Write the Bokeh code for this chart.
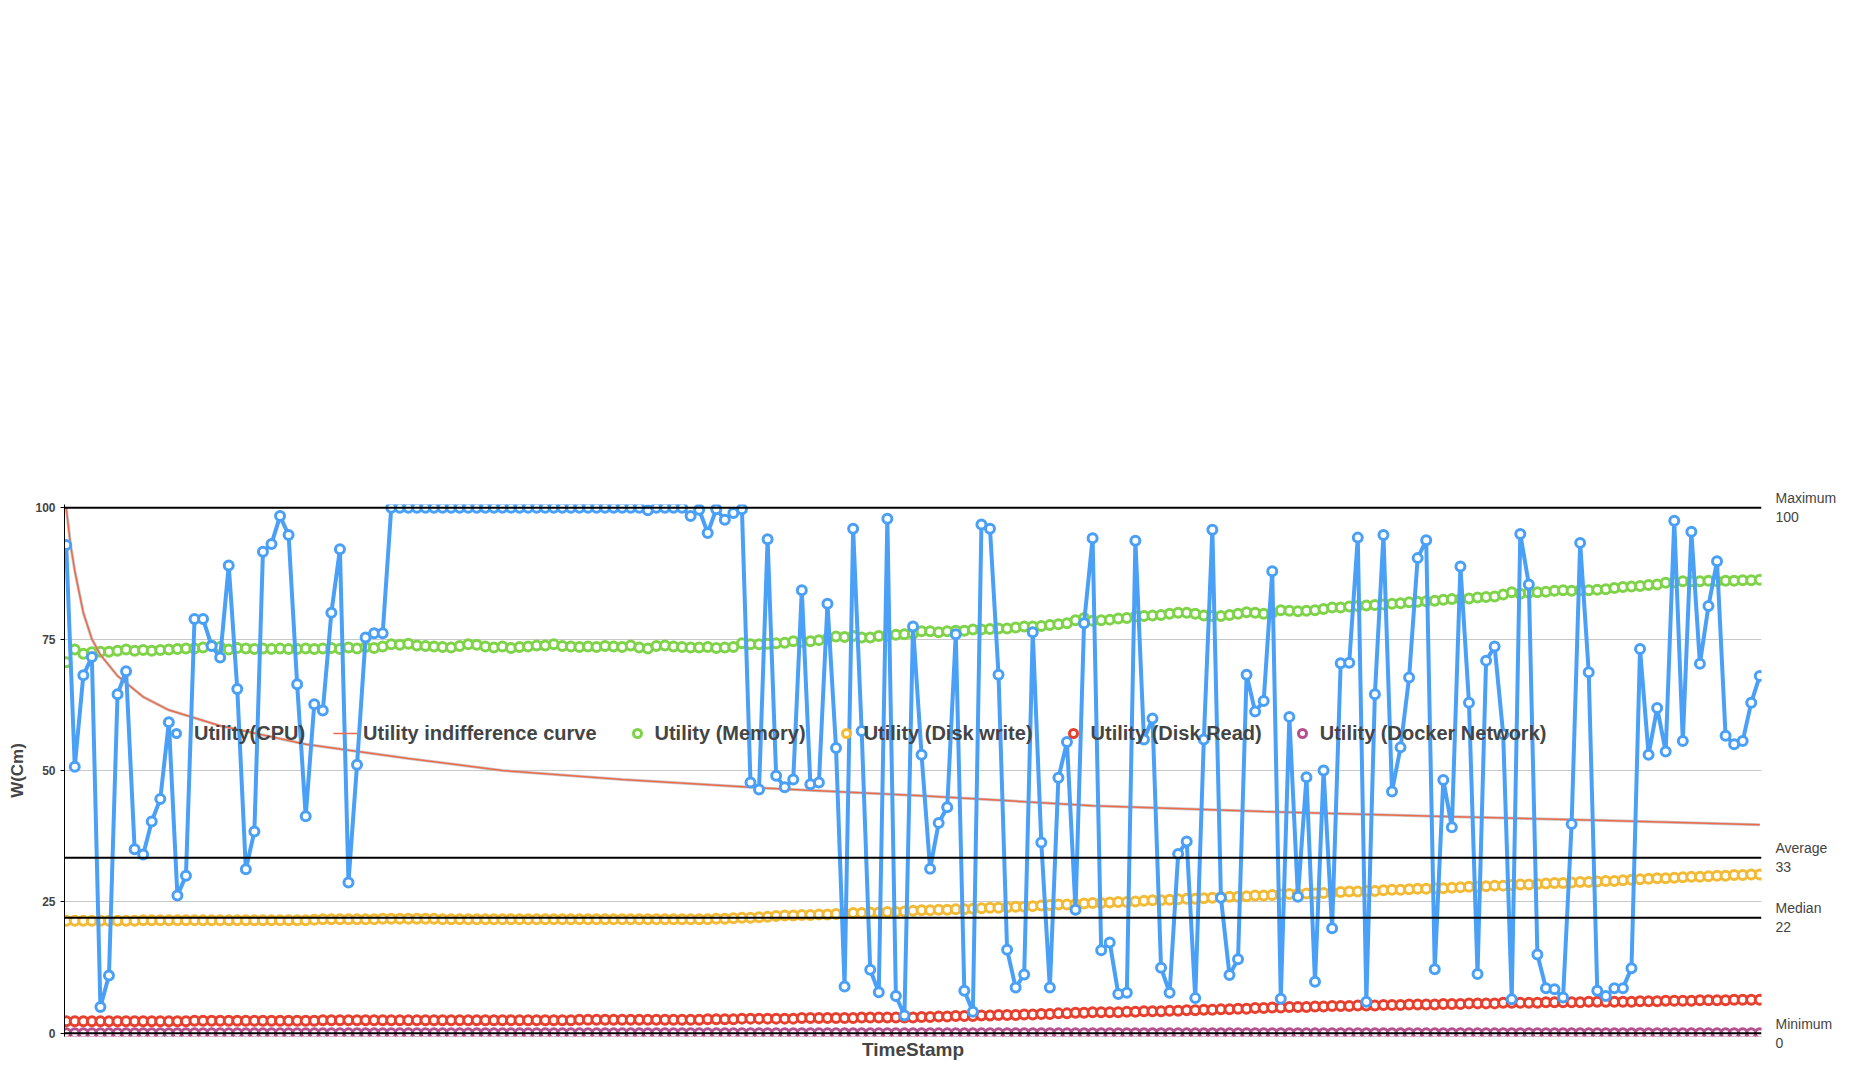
"""Container utility chart."""
from bokeh.embed import file_html
from bokeh.models import Legend, LegendItem, LinearAxis, Range1d, Span
from bokeh.plotting import figure
from bokeh.resources import INLINE

FONT = "Liberation Sans"

cpu = [
    92.9, 50.7, 68.1, 71.6, 5, 11, 64.5, 68.9, 35, 34,
    40.3, 44.6, 59.2, 26.2, 30, 78.8, 78.8, 73.7, 71.5, 89,
    65.5, 31.2, 38.4, 91.6, 93.1, 98.4, 94.8, 66.4, 41.3, 62.6,
    61.4, 80, 92.1, 28.7, 51.1, 75.3, 76.1, 76.1, 100, 100,
    100, 100, 100, 100, 100, 100, 100, 100, 100, 100,
    100, 100, 100, 100, 100, 100, 100, 100, 100, 100,
    100, 100, 100, 100, 100, 100, 100, 100, 99.5, 100,
    100, 100, 100, 98.4, 99.6, 95.2, 99.7, 97.7, 99, 99.7,
    47.7, 46.4, 94, 49, 46.8, 48.3, 84.3, 47.4, 47.7, 81.7,
    54.3, 8.9, 96, 57.5, 12.1, 7.8, 97.9, 7.1, 3.4, 77.4,
    53, 31.3, 40, 43, 75.9, 8.1, 4.1, 96.8, 96, 68.2,
    15.9, 8.7, 11.2, 76.3, 36.3, 8.7, 48.6, 55.4, 23.5, 78,
    94.2, 15.8, 17.3, 7.5, 7.7, 93.7, 55.9, 59.9, 12.5, 7.7,
    34.1, 36.5, 6.7, 55.9, 95.8, 25.8, 11.1, 14.1, 68.2, 61.2,
    63.2, 87.9, 6.6, 60.2, 26, 48.7, 9.8, 50, 20, 70.4,
    70.5, 94.3, 6, 64.5, 94.8, 46, 54.4, 67.7, 90.4, 93.8,
    12.2, 48.2, 39.2, 88.8, 62.9, 11.3, 70.9, 73.6, 56.9, 6.5,
    95, 85.4, 15, 8.6, 8.4, 6.8, 39.8, 93.3, 68.7, 8.1,
    7.1, 8.6, 8.6, 12.4, 73.1, 53, 61.9, 53.6, 97.5, 55.6,
    95.4, 70.3, 81.3, 89.8, 56.6, 55, 55.6, 62.9, 68,
]

memory = [
    70.6, 73.0, 72.2, 72.5, 72.6, 72.6, 72.8, 73.0, 72.8, 72.9,
    72.8, 72.9, 73.0, 73.1, 73.2, 73.2, 73.4, 73.8, 73.5, 73.0,
    73.3, 73.2, 73.1, 73.2, 73.1, 73.2, 73.1, 73.1, 73.2, 73.1,
    73.2, 73.3, 73.1, 73.4, 73.2, 73.5, 73.3, 73.6, 74.0, 73.9,
    74.1, 73.8, 73.7, 73.6, 73.5, 73.4, 73.7, 74.0, 73.9, 73.6,
    73.4, 73.6, 73.3, 73.5, 73.6, 73.8, 73.8, 74.0, 73.7, 73.6,
    73.5, 73.6, 73.5, 73.7, 73.6, 73.5, 73.8, 73.4, 73.2, 73.7,
    73.8, 73.6, 73.5, 73.4, 73.4, 73.5, 73.3, 73.4, 73.5, 74.2,
    74.0, 74.0, 74.1, 74.2, 74.3, 74.6, 74.5, 74.6, 74.8, 75.1,
    75.5, 75.4, 75.6, 75.3, 75.3, 75.6, 75.7, 75.8, 75.9, 76.0,
    76.5, 76.5, 76.3, 76.5, 76.6, 76.6, 76.8, 76.8, 76.9, 77.0,
    77.0, 77.2, 77.4, 77.4, 77.5, 77.7, 77.8, 78.0, 78.6, 79.0,
    78.5, 78.6, 78.7, 78.9, 79.0, 79.3, 79.4, 79.5, 79.6, 79.8,
    80.0, 80.0, 79.8, 79.5, 79.4, 79.4, 79.6, 79.8, 80.1, 80.0,
    79.8, 80.0, 80.5, 80.4, 80.3, 80.4, 80.5, 80.7, 81.0, 81.0,
    81.2, 81.3, 81.4, 81.5, 81.6, 81.7, 81.8, 82.0, 82.1, 82.2,
    82.3, 82.5, 82.6, 82.6, 82.7, 82.9, 83.0, 83.1, 83.5, 83.9,
    83.6, 83.8, 83.9, 84.0, 84.2, 84.3, 84.2, 84.3, 84.3, 84.4,
    84.5, 84.7, 84.9, 85.0, 85.1, 85.3, 85.4, 85.7, 85.8, 86.0,
    86.0, 86.0, 86.1, 86.0, 86.1, 86.1, 86.2, 86.2, 86.3,
]

disk_write = [
    21.4, 21.4, 21.4, 21.4, 21.4, 21.4, 21.4, 21.4, 21.4, 21.5,
    21.5, 21.5, 21.5, 21.5, 21.5, 21.5, 21.5, 21.5, 21.5, 21.5,
    21.5, 21.5, 21.5, 21.5, 21.5, 21.5, 21.5, 21.5, 21.5, 21.6,
    21.7, 21.7, 21.7, 21.7, 21.7, 21.7, 21.7, 21.8, 21.8, 21.8,
    21.8, 21.8, 21.8, 21.8, 21.7, 21.7, 21.7, 21.7, 21.7, 21.7,
    21.7, 21.7, 21.7, 21.7, 21.7, 21.7, 21.7, 21.7, 21.7, 21.7,
    21.7, 21.7, 21.7, 21.7, 21.7, 21.7, 21.7, 21.7, 21.7, 21.7,
    21.7, 21.7, 21.7, 21.7, 21.7, 21.7, 21.8, 21.8, 21.9, 22.0,
    22.0, 22.1, 22.2, 22.3, 22.4, 22.4, 22.5, 22.5, 22.6, 22.6,
    22.7, 22.8, 22.9, 22.9, 23.0, 23.0, 23.1, 23.1, 23.2, 23.3,
    23.4, 23.4, 23.5, 23.5, 23.6, 23.6, 23.7, 23.8, 23.9, 23.9,
    24.0, 24.1, 24.1, 24.2, 24.3, 24.4, 24.5, 24.5, 24.6, 24.7,
    24.8, 24.8, 24.9, 25.0, 25.0, 25.1, 25.2, 25.3, 25.3, 25.4,
    25.5, 25.6, 25.6, 25.7, 25.8, 25.9, 26.0, 26.0, 26.1, 26.2,
    26.2, 26.3, 26.4, 26.5, 26.5, 26.6, 26.6, 26.7, 26.8, 26.9,
    27.0, 27.0, 27.1, 27.1, 27.2, 27.3, 27.3, 27.4, 27.5, 27.5,
    27.6, 27.6, 27.7, 27.8, 27.9, 27.9, 28.0, 28.1, 28.1, 28.2,
    28.3, 28.3, 28.4, 28.5, 28.6, 28.6, 28.7, 28.8, 28.8, 28.9,
    29.0, 29.0, 29.1, 29.2, 29.3, 29.4, 29.5, 29.5, 29.6, 29.7,
    29.8, 29.8, 29.9, 30.0, 30.0, 30.1, 30.1, 30.2, 30.2,
]

disk_read = [
    2.3, 2.3, 2.3, 2.3, 2.3, 2.3, 2.3, 2.3, 2.3, 2.3,
    2.3, 2.3, 2.3, 2.3, 2.3, 2.4, 2.4, 2.4, 2.4, 2.4,
    2.4, 2.4, 2.4, 2.4, 2.4, 2.4, 2.4, 2.4, 2.4, 2.4,
    2.5, 2.5, 2.5, 2.5, 2.5, 2.5, 2.5, 2.5, 2.5, 2.5,
    2.5, 2.5, 2.5, 2.5, 2.5, 2.5, 2.5, 2.5, 2.5, 2.5,
    2.5, 2.5, 2.5, 2.5, 2.5, 2.5, 2.5, 2.5, 2.5, 2.5,
    2.6, 2.6, 2.6, 2.6, 2.6, 2.6, 2.6, 2.6, 2.6, 2.6,
    2.6, 2.6, 2.6, 2.6, 2.6, 2.7, 2.7, 2.7, 2.7, 2.8,
    2.8, 2.8, 2.8, 2.8, 2.8, 2.8, 2.9, 2.9, 2.9, 2.9,
    2.9, 2.9, 2.9, 3.0, 3.0, 3.0, 3.0, 3.0, 3.0, 3.0,
    3.1, 3.1, 3.2, 3.2, 3.3, 3.3, 3.3, 3.4, 3.4, 3.5,
    3.5, 3.5, 3.6, 3.6, 3.7, 3.7, 3.8, 3.8, 3.9, 3.9,
    4.0, 4.0, 4.0, 4.0, 4.1, 4.1, 4.2, 4.2, 4.2, 4.3,
    4.3, 4.4, 4.4, 4.5, 4.5, 4.6, 4.6, 4.7, 4.7, 4.8,
    4.8, 4.9, 4.9, 5.0, 5.0, 5.0, 5.1, 5.1, 5.2, 5.2,
    5.2, 5.3, 5.3, 5.3, 5.4, 5.4, 5.4, 5.5, 5.5, 5.5,
    5.5, 5.6, 5.6, 5.6, 5.7, 5.7, 5.7, 5.7, 5.8, 5.8,
    5.8, 5.8, 5.8, 5.9, 5.9, 5.9, 5.9, 5.9, 6.0, 6.0,
    6.0, 6.0, 6.0, 6.0, 6.1, 6.1, 6.1, 6.2, 6.2, 6.2,
    6.2, 6.3, 6.3, 6.3, 6.3, 6.4, 6.4, 6.4, 6.4,
]

docker_net = [0.0] * len(cpu)

# indifference curve, read at a few sample points
curve_x = [0, 0.5, 1, 1.5, 2, 3, 4, 6, 9, 12, 18, 28, 40, 51, 65, 80,
           100, 120, 140, 160, 180, 198]
curve_y = [100, 93, 88, 84, 80, 75, 72, 68, 64, 61.5, 58.5, 55, 52.3, 50,
           48.3, 46.8, 45.2, 43.3, 42.2, 41.3, 40.5, 39.7]

stat_names = ["Maximum", "Average", "Median", "Minimum"]
stat_values = [100, 33.4, 22, 0]
stat_labels = ["100", "33", "22", "0"]

idx = list(range(len(cpu)))

p = figure(
    width=1839, height=1062,
    x_range=Range1d(-0.2, len(cpu) - 0.8),
    y_range=Range1d(-0.6, 100.6),
    output_backend="svg", toolbar_location=None,
    min_border_left=64, min_border_right=10, min_border_top=2,
    min_border_bottom=4,
)
p.outline_line_color = None
p.xgrid.visible = False
p.ygrid.ticker = [25, 50, 75]
p.ygrid.grid_line_color = "#c8c8c8"

p.yaxis.ticker = [0, 25, 50, 75, 100]
p.yaxis.minor_tick_line_color = None
p.yaxis.axis_label = "W(Cm)"
p.yaxis.axis_label_text_font = FONT
p.yaxis.axis_label_text_font_style = "bold"
p.yaxis.axis_label_text_font_size = "17px"
p.yaxis.major_label_text_font = FONT
p.yaxis.major_label_text_font_style = "bold"
p.yaxis.major_label_text_font_size = "12px"
p.yaxis.axis_line_color = "black"
p.yaxis.major_tick_out = 4
p.yaxis.major_tick_in = 0

p.xaxis.ticker = []
p.xaxis.axis_label = "TimeStamp"
p.xaxis.axis_label_text_font = FONT
p.xaxis.axis_label_text_font_style = "bold"
p.xaxis.axis_label_text_font_size = "19px"
p.xaxis.axis_line_color = None
p.xaxis.axis_label_standoff = 2

# stats lines, labelled on a right-hand axis
for val in stat_values:
    p.add_layout(Span(location=val, dimension="width", line_color="black",
                      line_width=2))
stat_axis = LinearAxis(
    ticker=stat_values,
    major_label_overrides={v: f"{n}\n{t}" for v, n, t in
                           zip(stat_values, stat_names, stat_labels)},
    axis_line_color=None, major_tick_line_color=None,
    major_label_text_font=FONT, major_label_text_font_size="14px",
    major_label_standoff=8,
)
p.add_layout(stat_axis, "right")


def dots(y, color):
    return p.scatter(idx, y, size=9, line_color=color, line_width=3,
                     fill_color="white")


r_dock = dots(docker_net, "#b5508e")
r_read = dots(disk_read, "#e8402e")
r_write = dots(disk_write, "#f3ba35")
r_mem = dots(memory, "#7ed348")

p.line(curve_x, curve_y, line_color="#b0b0b0", line_width=3, line_alpha=0.7)
r_curve = p.line(curve_x, curve_y, line_color="#ee6a4a", line_width=1.5)

r_cpu_line = p.line(idx, cpu, line_color="#4aa0f7", line_width=4)
r_cpu = dots(cpu, "#4aa0f7")

legend = Legend(
    items=[
        LegendItem(label="Utility(CPU)", renderers=[r_cpu]),
        LegendItem(label="Utility indifference curve", renderers=[r_curve]),
        LegendItem(label="Utility (Memory)", renderers=[r_mem]),
        LegendItem(label="Utility (Disk write)", renderers=[r_write]),
        LegendItem(label="Utility (Disk Read)", renderers=[r_read]),
        LegendItem(label="Utility (Docker Network)", renderers=[r_dock]),
    ],
    orientation="horizontal", location=(100, 0),
    label_text_font=FONT, label_text_font_style="bold",
    label_text_font_size="20px", border_line_color=None,
    background_fill_alpha=0, spacing=28, padding=2, margin=2,
    glyph_width=24, label_standoff=6,
)
p.add_layout(legend, "above")

open("out.html", "w").write(file_html(p, INLINE))
